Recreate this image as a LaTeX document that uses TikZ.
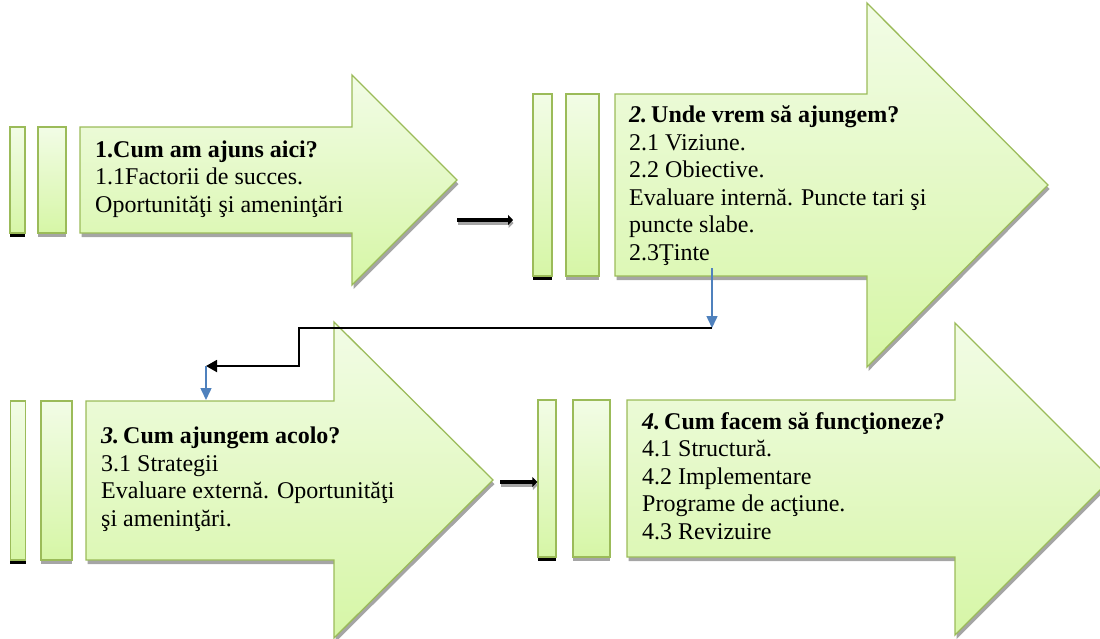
\documentclass[tikz,border=0pt]{standalone}
\usepackage{fontspec}
\setmainfont{Liberation Serif}
\usepackage{xcolor}
\usepackage{tikz}
\usetikzlibrary{arrows.meta,shadows}
\definecolor{arrowtop}{RGB}{242,252,230}
\definecolor{arrowbot}{RGB}{214,246,166}
\definecolor{arrowline}{RGB}{155,187,89}
\definecolor{shadowgray}{RGB}{165,165,165}
\definecolor{blueline}{RGB}{79,129,189}

% block arrow: left, shaft top, shaft bottom, head base, head top, head bottom, tip
\newcommand{\bigarrow}[7]{%
    \fill[shadowgray, shift={(1.5,4)}] (#1,#2) -- (#4,#2) -- (#4,#5) -- (#7,{(#5+#6)/2}) -- (#4,#6) -- (#4,#3) -- (#1,#3) -- cycle;
    \draw[blockarrow] (#1,#2) -- (#4,#2) -- (#4,#5) -- (#7,{(#5+#6)/2}) -- (#4,#6) -- (#4,#3) -- (#1,#3) -- cycle;
}

\begin{document}
\begin{tikzpicture}[x=1pt, y=-1pt]
    \tikzstyle{blockarrow} = [draw=arrowline, line width=1.3pt, top color=arrowtop, bottom color=arrowbot, line join=miter]
    \tikzstyle{bar} = [rectangle, draw=arrowline, line width=1.3pt, top color=arrowtop, bottom color=arrowbot, inner sep=0pt, drop shadow={shadow xshift=0pt, shadow yshift=-4pt, fill=shadowgray, opacity=1}]
    \tikzstyle{darkbar} = [bar, drop shadow={shadow xshift=0pt, shadow yshift=-4pt, fill=black, opacity=1}]
    \tikzstyle{txt} = [anchor=base west, align=left, inner sep=0pt, font=\fontsize{24}{27.5}\selectfont]
    \tikzstyle{push} = [line width=4.5pt, -{Triangle[length=5pt,width=10pt]}]
    \tikzstyle{pushshade} = [push, shadowgray, transform canvas={xshift=0.5pt, yshift=-3pt}]
    \tikzstyle{flow} = [line width=1.8pt, -{Triangle[length=11pt,width=12pt]}]
    \tikzstyle{drop} = [draw=blueline, line width=1.5pt, -{Triangle[length=12pt,width=11pt]}, blueline]

    \useasboundingbox (0,0) rectangle (1100,638);
    \clip (0,0) rectangle (1100,638);

    % Block arrows
    \bigarrow{80}{127}{233}{352}{75}{285}{457}
    \bigarrow{615}{94}{276}{867}{3}{367}{1048}
    \bigarrow{86}{401}{560}{334}{322}{638}{493}
    \bigarrow{627}{400}{557}{955}{323}{635}{1111}

    % Bars
    \node [darkbar, minimum width=15, minimum height=106] (h1) at (17.5,180) {};
    \node [bar, minimum width=28, minimum height=106] (h2) at (52,180) {};
    \node [darkbar, minimum width=19, minimum height=182] (w1) at (542.5,185) {};
    \node [bar, minimum width=33, minimum height=182] (w2) at (582.5,185) {};
    \node [darkbar, minimum width=15.5, minimum height=159] (g1) at (18,480.5) {};
    \node [bar, minimum width=31, minimum height=159] (g2) at (56.5,480.5) {};
    \node [darkbar, minimum width=18, minimum height=157] (r1) at (547,478.5) {};
    \node [bar, minimum width=37, minimum height=157] (r2) at (591.5,478.5) {};

    % Texts (placed by the baseline of their last line)
    \node [txt] (here) at (95,212) {\textbf{1.Cum am ajuns aici?}\\1.1Factorii de succes.\\Oportunităţi şi ameninţări};
    \node [txt] (where) at (629,260) {\textbf{\textit{2.}}\,\textbf{Unde vrem să ajungem?}\\2.1 Viziune.\\2.2 Obiective.\\Evaluare internă. Puncte tari şi\\puncte slabe.\\2.3Ţinte};
    \node [txt] (how) at (101,526) {\textbf{\textit{3.}}\,\textbf{Cum ajungem acolo?}\\3.1 Strategii\\Evaluare externă. Oportunităţi\\şi ameninţări.};
    \node [txt] (run) at (642,539) {\textbf{\textit{4.}}\,\textbf{Cum facem să funcţioneze?}\\4.1 Structură.\\4.2 Implementare\\Programe de acţiune.\\4.3 Revizuire};

    % Connector points
    \coordinate (p1s) at (457,220);
    \coordinate (p1e) at (513,220);
    \coordinate (p2s) at (500,482);
    \coordinate (d1s) at (712,268);
    \coordinate (d1e) at (712,328);
    \coordinate (bend) at (299,328);
    \coordinate (d2s) at (206,366);
    \coordinate (d2e) at (206,400);

    % Arrows
    \draw [pushshade] (p1s) -- (p1e);
    \draw [push] (p1s) -- (p1e);
    \draw [pushshade] (p2s) -- (p2s -| r1.west);
    \draw [push] (p2s) -- (p2s -| r1.west);
    \draw [drop] (d1s) -- (d1e);
    \draw [flow] (d1e) -- (bend) |- (d2s);
    \draw [drop] (d2s) -- (d2e);
\end{tikzpicture}
\end{document}
